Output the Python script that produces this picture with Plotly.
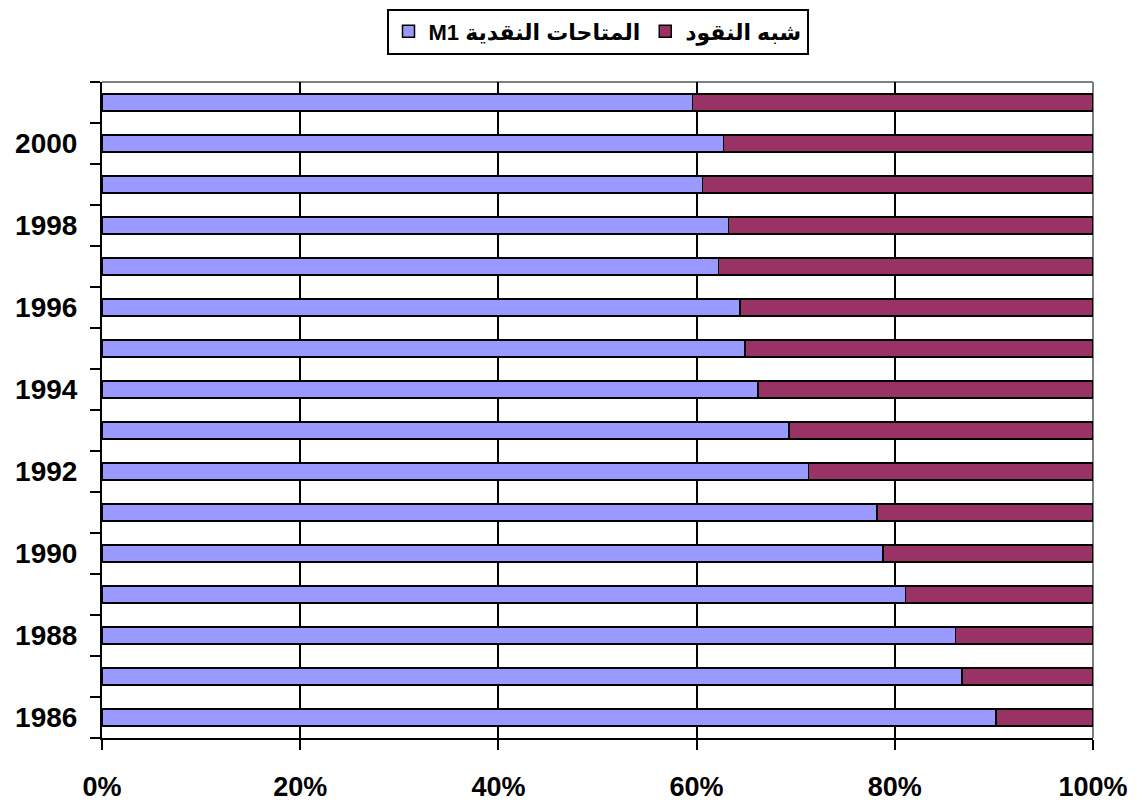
import plotly.graph_objects as go

years = [str(y) for y in range(1986, 2002)]
m1_share = [90.2, 86.8, 86.1, 81.1, 78.8, 78.2, 71.3, 69.3, 66.2, 64.9, 64.4, 62.2, 63.2, 60.6, 62.7, 59.6]
quasi_share = [9.8, 13.2, 13.9, 18.9, 21.2, 21.8, 28.7, 30.7, 33.8, 35.1, 35.6, 37.8, 36.8, 39.4, 37.3, 40.4]
series_names = ["M1 المتاحات النقدية", "شبه النقود"]
year_labels = [y if int(y) % 2 == 0 else "" for y in years]
x_ticks = [0, 20, 40, 60, 80, 100]
x_labels = [f"{v}%" for v in x_ticks]

FONT = "Arial, 'Liberation Sans', 'DejaVu Sans', sans-serif"

# page body has an 8px default margin, so the figure is sized to fit after it
W, H = 1129, 795

fig = go.Figure()
fig.add_trace(go.Bar(
    y=years, x=m1_share, orientation="h", name=series_names[0],
    marker=dict(color="#9999FF", line=dict(color="#000000", width=1.5)),
))
fig.add_trace(go.Bar(
    y=years, x=quasi_share, orientation="h", name=series_names[1],
    marker=dict(color="#993366", line=dict(color="#000000", width=1.5)),
))

fig.update_layout(
    width=W, height=H,
    margin=dict(l=94, r=44, t=74, b=65, autoexpand=False),
    paper_bgcolor="white", plot_bgcolor="white",
    barmode="stack", bargap=0.585,
    font=dict(family=FONT, color="black", size=22, weight="bold"),
    showlegend=True,
    legend=dict(
        orientation="h", x=0.5, xanchor="center", xref="paper",
        y=1 - 0.5 / H, yanchor="top", yref="container",
        bordercolor="black", borderwidth=2, bgcolor="white",
        font=dict(family=FONT, size=22, color="black", weight="bold"),
        traceorder="normal",
    ),
    xaxis=dict(
        range=[0, 100], tickvals=x_ticks, ticktext=x_labels,
        showgrid=True, gridcolor="black", gridwidth=2,
        showline=True, linecolor="black", linewidth=2,
        ticks="outside", ticklen=10, tickwidth=2, tickcolor="black",
        ticklabelstandoff=14, automargin=False,
        tickfont=dict(family=FONT, size=27, color="black", weight="bold"),
        zeroline=False, fixedrange=True,
    ),
    yaxis=dict(
        type="category", categoryorder="array", categoryarray=years,
        tickvals=years, ticktext=year_labels, tickson="boundaries",
        showgrid=False, showline=True, linecolor="black", linewidth=2,
        ticks="outside", ticklen=10, tickwidth=2, tickcolor="black",
        ticklabelstandoff=17, automargin=False,
        tickfont=dict(family=FONT, size=28, color="black", weight="bold"),
        range=[-0.5, 15.5], fixedrange=True,
    ),
    shapes=[
        dict(type="line", xref="paper", yref="paper", x0=0, x1=1, y0=1, y1=1,
             line=dict(color="#808080", width=2), layer="between"),
        dict(type="line", xref="paper", yref="paper", x0=1, x1=1, y0=0, y1=1,
             line=dict(color="#808080", width=2), layer="between"),
    ],
)

fig.write_html("out.html")
